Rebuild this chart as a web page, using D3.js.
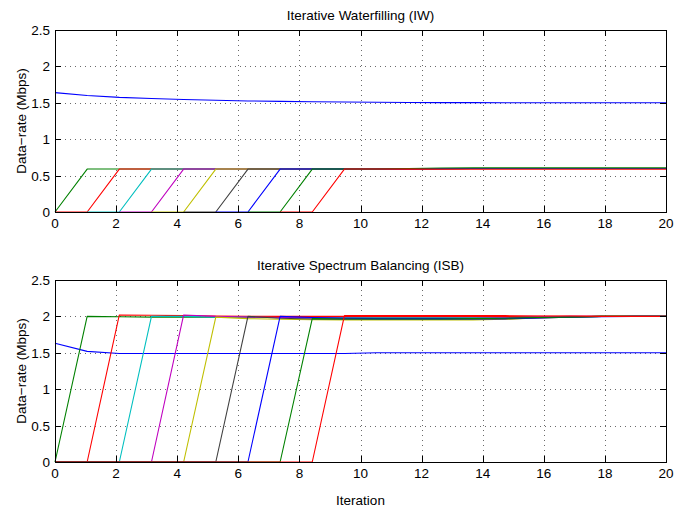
<!DOCTYPE html>
<html>
<head>
<meta charset="utf-8">
<script src="https://cdn.jsdelivr.net/npm/d3@7"></script>
<style>
    body { margin: 0; background: #fff; }
    text { font-family: "Liberation Sans", Arial, Helvetica, sans-serif; fill: #000; }
    .gridLine { stroke: #444; stroke-width: 0.8; stroke-dasharray: 1,4; }
    .frame { fill: none; stroke: #000; stroke-width: 1; }
    .tickMark { stroke: #000; stroke-width: 1; }
    .series { fill: none; stroke-width: 1.1; stroke-linejoin: round; }
</style>
</head>
<body>
<script>
(function(){

    //pseudo-global variables
    var xTicks = [0, 2, 4, 6, 8, 10, 12, 14, 16, 18, 20];
    var yTicks = [0, 0.5, 1, 1.5, 2, 2.5];
    var yTickLabels = ["0", "0.5", "1", "1.5", "2", "2.5"];
    var nIter = 20; //iterations plotted, spread over the 0-20 axis
    var lineColors = ["#0000ff", "#008000", "#ff0000", "#00bfbf", "#bf00bf", "#bfbf00", "#404040", "#0000ff", "#008000", "#ff0000"];
    var titles = ["Iterative Waterfilling (IW)", "Iterative Spectrum Balancing (ISB)"];
    var yLabel = "Data\u2212rate (Mbps)";
    var xLabel = "Iteration";

    //IW rates, one list per user (null = not yet plotted)
    var iwUser1 = [1.64, 1.60, 1.575, 1.56, 1.545, 1.535, 1.525, 1.52, 1.515, 1.51, 1.508, 1.505, 1.503, 1.502, 1.50, 1.50, 1.50, 1.50, 1.50, 1.50];
    var iwUser2 = [0, 0.59, 0.59, 0.59, 0.59, 0.59, 0.59, 0.59, 0.59, 0.59, 0.59, 0.594, 0.597, 0.597, 0.597, 0.597, 0.597, 0.597, 0.597, 0.597];
    var iwUser3 = [0, 0, 0.59, 0.59, 0.59, 0.59, 0.59, 0.59, 0.59, 0.59, 0.59, 0.594, 0.597, 0.597, 0.597, 0.597, 0.597, 0.597, 0.597, 0.597];
    var iwUser4 = [null, 0, 0, 0.59, 0.59, 0.59, 0.59, 0.59, 0.59, 0.59, 0.59, 0.592, 0.595, 0.597, 0.597, 0.597, 0.597, 0.597, 0.597, 0.597];
    var iwUser5 = [null, null, 0, 0, 0.59, 0.59, 0.59, 0.59, 0.59, 0.59, 0.59, 0.592, 0.595, 0.597, 0.597, 0.597, 0.597, 0.597, 0.597, 0.597];
    var iwUser6 = [null, null, null, 0, 0, 0.59, 0.59, 0.59, 0.59, 0.59, 0.59, 0.592, 0.595, 0.597, 0.597, 0.597, 0.597, 0.597, 0.597, 0.597];
    var iwUser7 = [null, null, null, null, 0, 0, 0.59, 0.59, 0.59, 0.59, 0.59, 0.592, 0.595, 0.597, 0.597, 0.597, 0.597, 0.597, 0.597, 0.597];
    var iwUser8 = [null, null, null, null, null, 0, 0, 0.59, 0.59, 0.59, 0.59, 0.592, 0.595, 0.597, 0.597, 0.597, 0.597, 0.597, 0.597, 0.597];
    var iwUser9 = [null, null, null, null, null, null, 0, 0, 0.59, 0.59, 0.59, 0.598, 0.605, 0.606, 0.606, 0.606, 0.606, 0.606, 0.606, 0.606];
    var iwUser10 = [null, null, null, null, null, null, null, 0, 0, 0.59, 0.59, 0.589, 0.588, 0.588, 0.588, 0.588, 0.588, 0.588, 0.588, 0.588];

    //ISB rates, one list per user
    var isbUser1 = [1.63, 1.52, 1.49, 1.49, 1.49, 1.49, 1.49, 1.49, 1.49, 1.49, 1.50, 1.50, 1.50, 1.50, 1.50, 1.50, 1.50, 1.50, 1.50, 1.50];
    var isbUser2 = [0, 2.0, 1.995, 1.99, 1.99, 1.99, 1.99, 1.99, 1.985, 1.98, 1.98, 1.98, 1.98, 1.98, 1.985, 1.99, 1.995, 2.0, 2.0, 2.0];
    var isbUser3 = [0, 0, 2.02, 2.015, 2.01, 2.005, 2.0, 2.0, 2.0, 2.0, 2.0, 2.0, 2.0, 2.0, 2.0, 2.0, 2.0, 2.0, 2.0, 2.0];
    var isbUser4 = [0, 0, 0, 2.0, 2.0, 1.99, 1.99, 1.985, 1.98, 1.98, 1.98, 1.98, 1.98, 1.98, 1.985, 1.99, 1.995, 2.0, 2.0, 2.0];
    var isbUser5 = [0, 0, 0, 0, 2.02, 2.0, 1.99, 1.985, 1.98, 1.975, 1.975, 1.975, 1.975, 1.975, 1.98, 1.99, 2.0, 2.0, 2.0, 2.0];
    var isbUser6 = [0, 0, 0, 0, 0, 1.99, 1.97, 1.96, 1.955, 1.95, 1.95, 1.95, 1.95, 1.95, 1.96, 1.98, 1.99, 2.0, 2.0, 2.0];
    var isbUser7 = [0, 0, 0, 0, 0, 0, 2.0, 1.975, 1.965, 1.96, 1.96, 1.96, 1.96, 1.96, 1.965, 1.98, 1.99, 2.0, 2.0, 2.0];
    var isbUser8 = [0, 0, 0, 0, 0, 0, 0, 2.0, 1.985, 1.975, 1.97, 1.97, 1.97, 1.97, 1.97, 1.98, 1.99, 1.995, 2.0, 2.0];
    var isbUser9 = [0, 0, 0, 0, 0, 0, 0, 0, 1.97, 1.965, 1.965, 1.965, 1.965, 1.97, 1.975, 1.985, 1.99, 2.0, 2.0, 2.0];
    var isbUser10 = [0, 0, 0, 0, 0, 0, 0, 0, 0, 2.01, 2.01, 2.01, 2.01, 2.01, 2.01, 2.005, 2.005, 2.0, 2.0, 2.0];

    var iwSeries = [iwUser1, iwUser2, iwUser3, iwUser4, iwUser5, iwUser6, iwUser7, iwUser8, iwUser9, iwUser10];
    var isbSeries = [isbUser1, isbUser2, isbUser3, isbUser4, isbUser5, isbUser6, isbUser7, isbUser8, isbUser9, isbUser10];

    //frame dimensions
    var width = 684,
        height = 513;

    var svg = d3.select("body")
        .append("svg")
        .attr("width", width)
        .attr("height", height);

    svg.append("rect")
        .attr("width", width)
        .attr("height", height)
        .style("fill", "#fff");

    //axes boxes [left, top, right, bottom]
    var panels = [
        {box: [55, 30, 666, 212], title: titles[0], series: iwSeries},
        {box: [55, 280, 666, 462], title: titles[1], series: isbSeries}
    ];

    panels.forEach(function(p){
        drawPanel(p);
    });

    //x label only under the lower plot
    svg.append("text")
        .attr("x", 360.5)
        .attr("y", 505)
        .attr("text-anchor", "middle")
        .style("font-size", "13.5px")
        .text(xLabel);

    function drawPanel(p){
        var x0 = p.box[0], y0 = p.box[1], x1 = p.box[2], y1 = p.box[3];

        var xScale = d3.scaleLinear()
            .domain([0, 20])
            .range([x0, x1]);

        var yScale = d3.scaleLinear()
            .domain([0, 2.5])
            .range([y1, y0]);

        var g = svg.append("g");

        //dotted grid
        g.selectAll(".gridX")
            .data(xTicks)
            .enter()
            .append("line")
            .attr("class", "gridLine")
            .attr("x1", function(d){ return Math.round(xScale(d)) + 0.5; })
            .attr("x2", function(d){ return Math.round(xScale(d)) + 0.5; })
            .attr("y1", y0)
            .attr("y2", y1);

        g.selectAll(".gridY")
            .data(yTicks)
            .enter()
            .append("line")
            .attr("class", "gridLine")
            .attr("x1", x0)
            .attr("x2", x1)
            .attr("y1", function(d){ return Math.round(yScale(d)) + 0.5; })
            .attr("y2", function(d){ return Math.round(yScale(d)) + 0.5; });

        //data lines, x spread evenly over 0-20
        var line = d3.line()
            .defined(function(d){ return d != null; })
            .x(function(d, i){ return xScale(i * 20 / (nIter - 1)); })
            .y(function(d){ return yScale(d); });

        g.selectAll(".series")
            .data(p.series)
            .enter()
            .append("path")
            .attr("class", "series")
            .attr("d", line)
            .style("stroke", function(d, i){ return lineColors[i]; });

        //inward tick marks on all four sides
        var tl = 6;
        xTicks.forEach(function(t){
            var xp = Math.round(xScale(t)) + 0.5;
            g.append("line").attr("class", "tickMark")
                .attr("x1", xp).attr("x2", xp).attr("y1", y1).attr("y2", y1 - tl);
            g.append("line").attr("class", "tickMark")
                .attr("x1", xp).attr("x2", xp).attr("y1", y0).attr("y2", y0 + tl);
        });
        yTicks.forEach(function(t){
            var yp = Math.round(yScale(t)) + 0.5;
            g.append("line").attr("class", "tickMark")
                .attr("x1", x0).attr("x2", x0 + tl).attr("y1", yp).attr("y2", yp);
            g.append("line").attr("class", "tickMark")
                .attr("x1", x1).attr("x2", x1 - tl).attr("y1", yp).attr("y2", yp);
        });

        //box
        g.append("rect")
            .attr("class", "frame")
            .attr("x", x0 + 0.5)
            .attr("y", y0 + 0.5)
            .attr("width", x1 - x0)
            .attr("height", y1 - y0);

        //tick labels
        g.selectAll(".xLab")
            .data(xTicks)
            .enter()
            .append("text")
            .attr("x", function(d){ return xScale(d); })
            .attr("y", y1 + 16)
            .attr("text-anchor", "middle")
            .style("font-size", "13.5px")
            .text(function(d){ return d; });

        g.selectAll(".yLab")
            .data(yTicks)
            .enter()
            .append("text")
            .attr("x", x0 - 5)
            .attr("y", function(d){ return yScale(d) + 5; })
            .attr("text-anchor", "end")
            .style("font-size", "13.5px")
            .text(function(d, i){ return yTickLabels[i]; });

        //title
        g.append("text")
            .attr("x", (x0 + x1) / 2)
            .attr("y", y0 - 10)
            .attr("text-anchor", "middle")
            .style("font-size", "13.5px")
            .text(p.title);

        //y label
        g.append("text")
            .attr("transform", "translate(26," + ((y0 + y1) / 2) + ") rotate(-90)")
            .attr("text-anchor", "middle")
            .style("font-size", "13.5px")
            .text(yLabel);
    }
})();
</script>
</body>
</html>
